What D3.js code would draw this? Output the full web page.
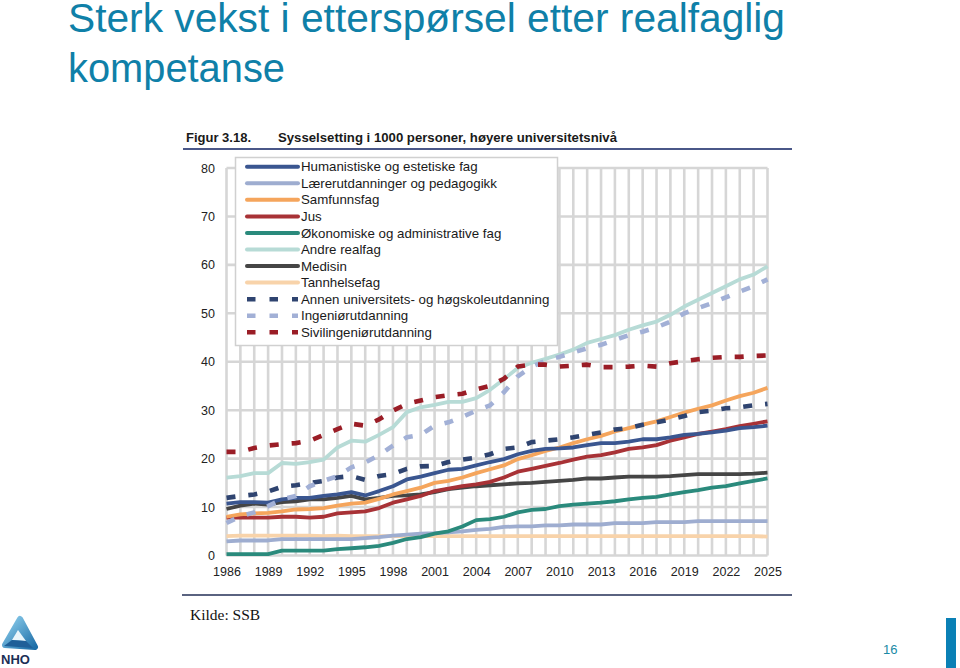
<!DOCTYPE html>
<html><head><meta charset="utf-8">
<script src="https://cdn.jsdelivr.net/npm/d3@7"></script>
<style>
html,body{margin:0;padding:0;background:#fff;}
svg{display:block;font-family:"Liberation Sans",Arial,sans-serif;}
</style></head>
<body>
<svg id="c" width="960" height="668"></svg>
<script>
const years = [1986,1987,1988,1989,1990,1991,1992,1993,1994,1995,1996,1997,1998,1999,2000,2001,2002,2003,2004,2005,2006,2007,2008,2009,2010,2011,2012,2013,2014,2015,2016,2017,2018,2019,2020,2021,2022,2023,2024,2025];
const xTickYears = [1986,1989,1992,1995,1998,2001,2004,2007,2010,2013,2016,2019,2022,2025];
const yTicks = [0,10,20,30,40,50,60,70,80];

const humanistiske = [10.7,11.0,11.0,10.9,11.6,11.9,11.9,12.3,12.6,13.1, 12.4,13.3,14.3,15.7,16.3,17.0,17.7,17.9,18.6,19.3, 19.9,20.9,21.6,22.0,22.1,22.3,22.8,23.2,23.2,23.5, 24.0,24.0,24.4,24.9,25.1,25.4,25.8,26.3,26.5,26.8];
const laerer = [2.9,3.1,3.1,3.1,3.4,3.4,3.4,3.4,3.4,3.4, 3.6,3.8,4.1,4.3,4.5,4.6,4.8,5.0,5.3,5.5, 5.9,6.0,6.0,6.2,6.2,6.4,6.4,6.4,6.7,6.7, 6.7,6.9,6.9,6.9,7.1,7.1,7.1,7.1,7.1,7.1];
const samfunnsfag = [8.0,8.5,8.7,8.8,9.1,9.5,9.6,9.8,10.3,10.7, 10.9,11.7,12.6,13.3,14.0,15.0,15.4,16.1,17.0,17.8, 18.6,19.9,20.7,21.6,22.3,23.2,24.0,24.7,25.6,26.3, 27.0,27.7,28.6,29.5,30.3,31.0,32.0,32.9,33.6,34.6];
const jus = [7.8,7.8,7.8,7.8,8.0,8.0,7.8,8.0,8.7,8.9, 9.1,9.8,10.9,11.6,12.3,13.3,13.8,14.3,14.7,15.2, 16.1,17.3,17.9,18.5,19.1,19.8,20.4,20.7,21.3,22.0, 22.3,22.8,23.7,24.4,25.1,25.6,26.1,26.7,27.2,27.7];
const okonomi = [0.3,0.3,0.3,0.3,1.0,1.0,1.0,1.0,1.3,1.5, 1.7,2.0,2.6,3.4,3.8,4.5,5.0,6.0,7.3,7.5, 8.0,8.9,9.4,9.6,10.2,10.5,10.7,10.9,11.2,11.6, 11.9,12.1,12.6,13.1,13.5,14.0,14.3,14.9,15.4,15.9];
const andreRealfag = [16.1,16.4,17.0,17.0,19.1,18.9,19.3,19.8,22.3,23.7, 23.5,24.9,26.5,29.6,30.6,31.1,31.7,31.7,32.5,34.2, 36.4,38.7,39.8,40.6,41.5,42.5,43.9,44.7,45.5,46.6, 47.5,48.3,49.7,51.4,52.8,54.2,55.6,57.0,58.0,59.7];
const medisin = [9.6,10.3,10.7,10.5,11.0,11.2,11.6,11.6,11.9,12.3, 11.6,11.9,12.3,12.4,12.6,13.1,13.7,14.0,14.3,14.5, 14.7,14.9,15.0,15.2,15.4,15.6,15.9,15.9,16.1,16.3, 16.3,16.3,16.4,16.6,16.8,16.8,16.8,16.8,16.9,17.1];
const tannhelse = [4.0,4.1,4.1,4.1,4.1,4.1,4.1,4.0,4.1,4.0, 4.0,4.0,4.0,4.0,4.0,4.0,4.0,4.0,4.0,4.0, 4.0,4.0,4.0,4.0,4.0,4.0,4.0,4.0,4.0,4.0, 4.0,4.0,4.0,4.0,4.0,4.0,4.0,4.0,4.0,3.9];
const annenUniv = [11.9,12.3,12.6,13.2,14.2,14.5,15.0,15.4,16.1,16.4, 15.6,16.4,16.8,17.9,18.4,18.5,19.3,19.8,20.2,20.9, 22.0,22.3,23.4,23.7,24.0,24.4,24.9,25.4,26.0,26.3, 27.0,27.5,28.1,28.8,29.6,29.9,30.4,30.6,31.0,31.3];
const ingenior = [6.7,8.1,8.9,10.2,11.6,12.3,14.3,15.4,16.4,18.2, 19.2,20.7,22.7,24.4,24.9,26.8,27.5,28.6,29.9,31.0, 33.7,37.0,39.0,40.2,41.0,41.9,42.8,43.5,44.5,45.5, 46.2,47.1,48.3,50.0,51.1,52.1,53.3,54.5,55.6,57.0];
const sivilingenior = [21.4,21.4,22.2,22.7,23.0,23.2,23.7,24.9,26.1,27.2, 26.8,28.1,29.9,31.3,32.0,32.7,33.1,33.4,34.3,35.0, 36.5,39.0,39.4,39.4,39.0,39.2,39.4,38.9,38.9,39.0, 39.2,39.0,39.7,40.1,40.5,40.8,41.0,41.0,41.2,41.3];

const seriesNames = ["Humanistiske og estetiske fag","Lærerutdanninger og pedagogikk","Samfunnsfag","Jus","Økonomiske og administrative fag","Andre realfag","Medisin","Tannhelsefag","Annen universitets- og høgskoleutdanning","Ingeniørutdanning","Sivilingeniørutdanning"];
const seriesValues = [humanistiske,laerer,samfunnsfag,jus,okonomi,andreRealfag,medisin,tannhelse,annenUniv,ingenior,sivilingenior];
const seriesColors = ["#3a5690","#9eadd0","#f5a55c","#a83236","#2a8a7c","#b7dbd6","#454545","#f8d3aa","#2f4470","#a2b0d6","#9a1d26"];
const seriesDashed = [false,false,false,false,false,false,false,false,true,true,true];

const svg = d3.select("#c");
const x = d3.scaleLinear().domain([1986,2025]).range([226.5,767.5]);
const y = d3.scaleLinear().domain([0,80]).range([555.5,168]);

// Slide title
const titleColor = "#0f80a8";
svg.append("text").attr("x",68).attr("y",32).attr("font-size",40).attr("fill",titleColor)
  .attr("textLength",717).attr("lengthAdjust","spacingAndGlyphs")
  .text("Sterk vekst i etterspørsel etter realfaglig");
svg.append("text").attr("x",68).attr("y",82).attr("font-size",40).attr("fill",titleColor)
  .attr("textLength",217).attr("lengthAdjust","spacingAndGlyphs")
  .text("kompetanse");

// Figure header
svg.append("text").attr("x",186).attr("y",142).attr("font-size",13).attr("font-weight","bold").attr("fill","#1a1a1a").text("Figur 3.18.");
svg.append("text").attr("x",278).attr("y",142).attr("font-size",13.1).attr("font-weight","bold").attr("fill","#1a1a1a")
  .attr("textLength",339).attr("lengthAdjust","spacingAndGlyphs")
  .text("Sysselsetting i 1000 personer, høyere universitetsnivå");
svg.append("line").attr("x1",183).attr("x2",792).attr("y1",149).attr("y2",149).attr("stroke","#4a5788").attr("stroke-width",2);

// Grid
const grid = svg.append("g");
grid.selectAll("line.v").data(years).join("line").attr("class","v")
  .attr("x1",d=>x(d)).attr("x2",d=>x(d)).attr("y1",y(80)).attr("y2",y(0))
  .attr("stroke","#d6d6d6").attr("stroke-width",2.6);
grid.selectAll("line.h").data(yTicks).join("line").attr("class","h")
  .attr("x1",x(1986)).attr("x2",x(2025)).attr("y1",d=>y(d)).attr("y2",d=>y(d))
  .attr("stroke","#d6d6d6").attr("stroke-width",2.6);

// Axes
const yAxis = d3.axisLeft(y).tickValues(yTicks).tickSize(0).tickPadding(0);
const gy = svg.append("g").attr("transform","translate(215,0)").call(yAxis);
gy.select(".domain").remove();
gy.selectAll("text").attr("font-size",12.5).attr("fill","#222").attr("font-family","Liberation Sans, Arial, sans-serif");

const xAxis = d3.axisBottom(x).tickValues(xTickYears).tickFormat(d3.format("d")).tickSize(0).tickPadding(0);
const gx = svg.append("g").attr("transform","translate(0,567)").call(xAxis);
gx.select(".domain").remove();
gx.selectAll("text").attr("font-size",12.5).attr("fill","#222").attr("font-family","Liberation Sans, Arial, sans-serif");

// Lines
const line = d3.line().x((d,i)=>x(years[i])).y(d=>y(d));
const order = [7,1,4,6,3,2,0,8,5,9,10];
order.forEach(k=>{
  svg.append("path").datum(seriesValues[k]).attr("d",line)
    .attr("fill","none").attr("stroke",seriesColors[k])
    .attr("stroke-width",seriesDashed[k]?4.6:3.8)
    .attr("stroke-linejoin","round")
    .attr("stroke-dasharray",seriesDashed[k]?"9,13":null);
});

// Legend
const lg = svg.append("g");
lg.append("rect").attr("x",235.5).attr("y",157.5).attr("width",322).attr("height",188)
  .attr("fill","#fff").attr("stroke","#d0d0d0").attr("stroke-width",1.5);
seriesNames.forEach((n,i)=>{
  const cy = 166.7 + i*16.56;
  lg.append("line").attr("x1",247).attr("x2",298).attr("y1",cy).attr("y2",cy)
    .attr("stroke",seriesColors[i]).attr("stroke-width",seriesDashed[i]?4.5:4)
    .attr("stroke-linecap",seriesDashed[i]?"butt":"round")
    .attr("stroke-dasharray",seriesDashed[i]?"8.5,14":null);
  lg.append("text").attr("x",301).attr("y",cy+4.6).attr("font-size",13.3).attr("fill","#1a1a1a").text(n);
});

// Footer
svg.append("line").attr("x1",182).attr("x2",792).attr("y1",595).attr("y2",595).attr("stroke","#5a6380").attr("stroke-width",2);
svg.append("text").attr("x",190).attr("y",620).attr("font-size",15.5).attr("font-family","Liberation Serif, Times New Roman, serif").attr("fill","#111").text("Kilde: SSB");
svg.append("text").attr("x",883).attr("y",654).attr("font-size",13).attr("fill","#1a8aa5").text("16");
svg.append("rect").attr("x",946).attr("y",618).attr("width",10).attr("height",50).attr("fill","#0a80b5");

// NHO logo
const defs = svg.append("defs");
const gr = defs.append("linearGradient").attr("id","lg1").attr("x1","0").attr("y1","0").attr("x2","1").attr("y2","1");
gr.append("stop").attr("offset","0").attr("stop-color","#8fd0ee");
gr.append("stop").attr("offset","1").attr("stop-color","#1d6ea8");
const logo = svg.append("g");
logo.append("path").attr("d","M20,619 L35,647 L5,645 Z").attr("fill","url(#lg1)").attr("stroke","url(#lg1)").attr("stroke-width",6).attr("stroke-linejoin","round");
logo.append("path").attr("d","M18,630 L26,641 L12,640 Z").attr("fill","#e9f5fb");
logo.append("path").attr("d","M12,640 L26,641 L33,648 L4,646 Z").attr("fill","#1f5f98");
logo.append("text").attr("x",1).attr("y",664).attr("font-size",13).attr("font-weight","bold").attr("fill","#1b2f55").text("NHO");
</script>
</body></html>
